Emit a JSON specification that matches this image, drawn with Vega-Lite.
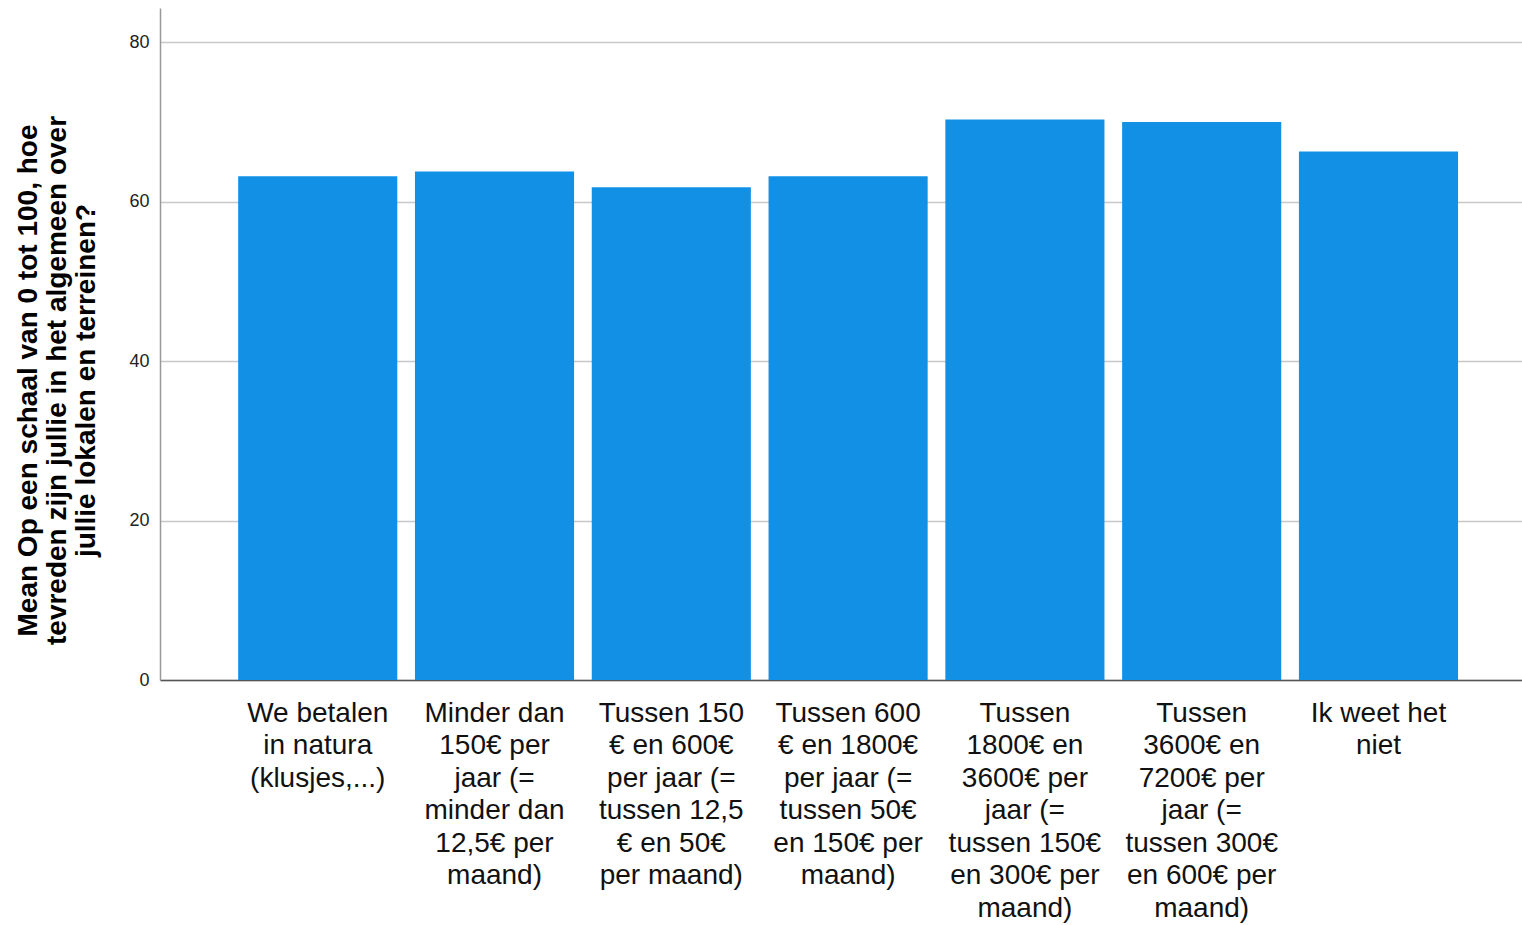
{
  "$schema": "https://vega.github.io/schema/vega-lite/v6.json",
  "width": 1362,
  "height": 672,
  "autosize": {"type": "none"},
  "padding": {"left": 160, "top": 8, "right": 0, "bottom": 245},
  "background": "white",
  "data": {
    "values": [
      {"categorie": "We betalen\nin natura\n(klusjes,...)", "gemiddelde": 63.2},
      {"categorie": "Minder dan\n150€ per\njaar (=\nminder dan\n12,5€ per\nmaand)", "gemiddelde": 63.8},
      {"categorie": "Tussen 150\n€ en 600€\nper jaar (=\ntussen 12,5\n€ en 50€\nper maand)", "gemiddelde": 61.8},
      {"categorie": "Tussen 600\n€ en 1800€\nper jaar (=\ntussen 50€\nen 150€ per\nmaand)", "gemiddelde": 63.2},
      {"categorie": "Tussen\n1800€ en\n3600€ per\njaar (=\ntussen 150€\nen 300€ per\nmaand)", "gemiddelde": 70.3},
      {"categorie": "Tussen\n3600€ en\n7200€ per\njaar (=\ntussen 300€\nen 600€ per\nmaand)", "gemiddelde": 70.0},
      {"categorie": "Ik weet het\nniet", "gemiddelde": 66.3}
    ]
  },
  "mark": {"type": "bar", "color": "#1290E6"},
  "encoding": {
    "x": {
      "field": "categorie",
      "type": "nominal",
      "sort": null,
      "scale": {"paddingInner": 0.1, "paddingOuter": 0.402, "align": 0.55},
      "axis": {
        "title": null,
        "labelAngle": 0,
        "labelExpr": "split(datum.label, '\\n')",
        "labelFont": "Liberation Sans",
        "labelFontSize": 28,
        "labelLineHeight": 32.5,
        "labelColor": "#111111",
        "labelPadding": 19,
        "labelLimit": 300,
        "ticks": false,
        "domainColor": "#555555",
        "domainWidth": 1.5,
        "grid": false
      }
    },
    "y": {
      "field": "gemiddelde",
      "type": "quantitative",
      "scale": {"domain": [0, 84.3], "nice": false, "zero": true},
      "axis": {
        "values": [0, 20, 40, 60, 80],
        "title": ["Mean Op een schaal van 0 tot 100, hoe", "tevreden zijn jullie in het algemeen over", "jullie lokalen en terreinen?"],
        "titleFont": "Liberation Sans",
        "titleFontSize": 28,
        "titleFontWeight": "bold",
        "titleColor": "#000000",
        "titleLineHeight": 29,
        "titlePadding": 28,
        "titleY": 372,
        "labelFont": "Liberation Sans",
        "labelFontSize": 18,
        "labelColor": "#222222",
        "labelPadding": 11,
        "ticks": false,
        "domainColor": "#999999",
        "domainWidth": 1.5,
        "grid": true,
        "gridColor": "#c8c8c8",
        "gridWidth": 1.5
      }
    }
  },
  "config": {
    "view": {"stroke": null}
  }
}
